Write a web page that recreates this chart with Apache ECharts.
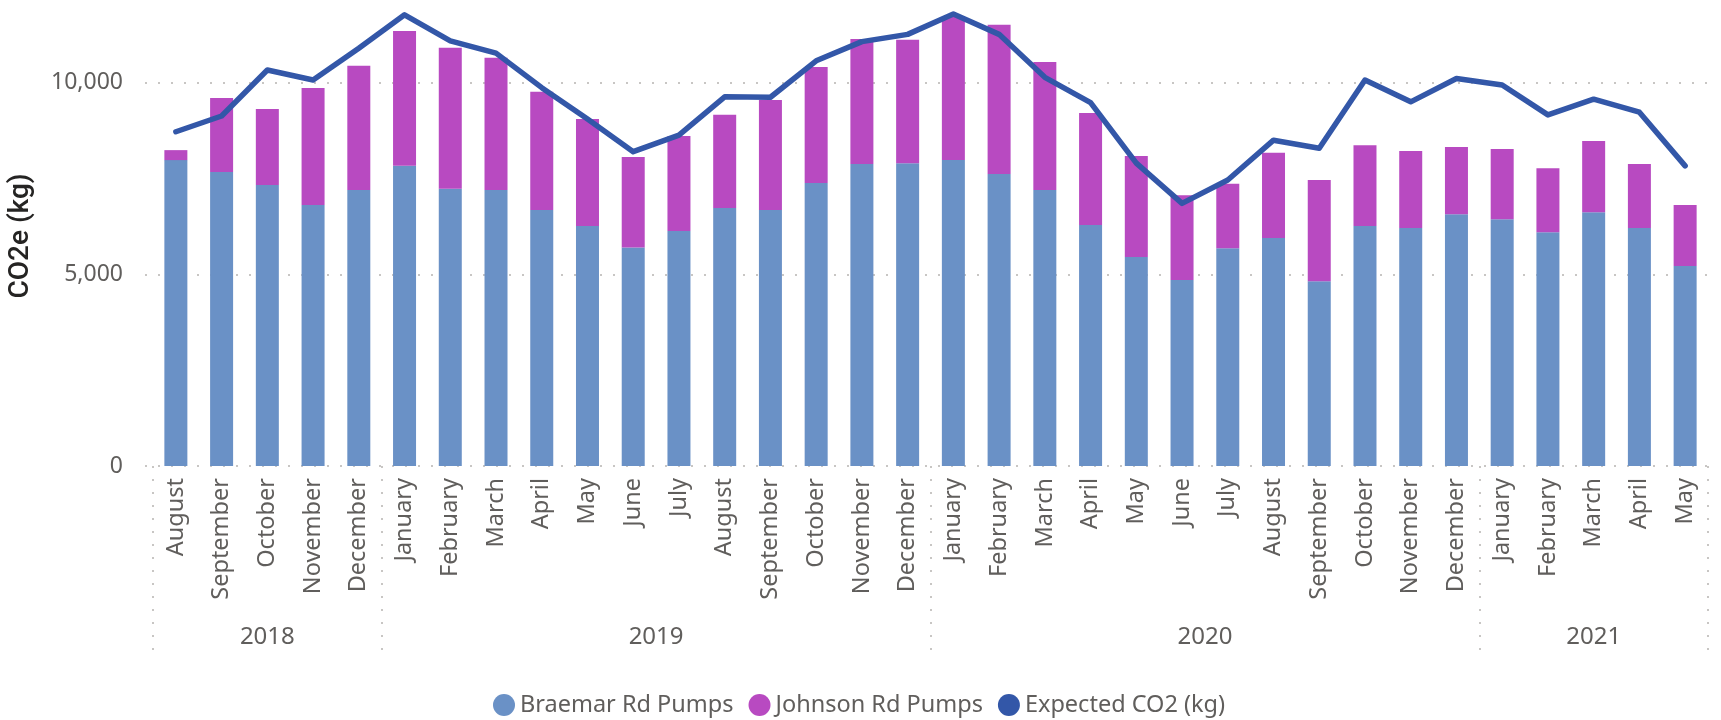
<!DOCTYPE html>
<html>
<head>
<meta charset="utf-8">
<script src="https://cdn.jsdelivr.net/npm/echarts@6/dist/echarts.min.js"></script>
<style>
  html, body { margin: 0; padding: 0; background: #ffffff; }
  #chart { width: 1721px; height: 720px; }
</style>
</head>
<body>
<div id="chart"></div>
<script>
// Monthly CO2e from the two pump stations, Aug 2018 – May 2021
const months = [
  'August', 'September', 'October', 'November', 'December',
  'January', 'February', 'March', 'April', 'May', 'June', 'July',
  'August', 'September', 'October', 'November', 'December',
  'January', 'February', 'March', 'April', 'May', 'June', 'July',
  'August', 'September', 'October', 'November', 'December',
  'January', 'February', 'March', 'April', 'May'
];
const years = ['2018', '2019', '2020', '2021'];
const monthsPerYear = [5, 12, 12, 5];

const braemar = [
  7980, 7670, 7330, 6810, 7200,
  7830, 7230, 7200, 6680, 6260, 5700, 6130, 6730, 6680, 7380, 7880, 7900,
  7980, 7620, 7200, 6290, 5450, 4850, 5680, 5950, 4820, 6260, 6210, 6570,
  6440, 6100, 6620, 6210, 5220
];
const johnson = [
  260, 1930, 1980, 3050, 3240,
  3520, 3680, 3450, 3080, 2790, 2360, 2480, 2430, 2870, 3030, 3260, 3220,
  3740, 3890, 3340, 2920, 2640, 2210, 1680, 2220, 2640, 2110, 2010, 1750,
  1830, 1670, 1860, 1670, 1590
];
const expected = [
  8720, 9130, 10330, 10070, 10900,
  11770, 11090, 10770, 9870, 9050, 8200, 8630, 9630, 9620, 10570, 11070, 11260,
  11790, 11260, 10140, 9480, 7900, 6850, 7460, 8500, 8290, 10070, 9500, 10110,
  9940, 9160, 9570, 9230, 7830
];

const Y_MAX = 12000;
const Y_STEP = 5000;

// Year band: half-month slots so each year name sits mid-span and
// the separators fall on the month boundaries.
const yearSlots = new Array(months.length * 2 + 1).fill('');
const yearLabelSlots = new Set();
const yearEdgeSlots = new Set([0]);
let startMonth = 0;
monthsPerYear.forEach((n, i) => {
  const mid = 2 * startMonth + n;
  yearSlots[mid] = years[i];
  yearLabelSlots.add(mid);
  startMonth += n;
  yearEdgeSlots.add(2 * startMonth);
});

const FONT = '"Noto Sans", "Segoe UI", sans-serif';
const TEXT = '#605E5C';
const GRIDLINE = '#C8C6C4';

const chart = echarts.init(document.getElementById('chart'), null, { renderer: 'canvas' });
chart.setOption({
  animation: false,
  backgroundColor: '#ffffff',
  grid: [
    { left: 153, right: 13, top: 6, bottom: 254, outerBoundsMode: 'none' },
    { left: 145, right: 10, top: 6, bottom: 254, outerBoundsMode: 'none' }
  ],
  legend: {
    left: 488,
    top: 688,
    icon: 'circle',
    itemWidth: 22,
    itemHeight: 22,
    itemGap: 15,
    textStyle: { fontFamily: FONT, fontSize: 23.5, color: TEXT },
    data: ['Braemar Rd Pumps', 'Johnson Rd Pumps', 'Expected CO2 (kg)']
  },
  xAxis: [
    {
      type: 'category',
      gridIndex: 0,
      position: 'bottom',
      data: months,
      axisLine: { show: false },
      axisTick: { show: false },
      axisLabel: {
        rotate: 90,
        interval: 0,
        margin: 12,
        fontFamily: FONT,
        fontSize: 23.5,
        color: TEXT
      }
    },
    {
      type: 'category',
      gridIndex: 0,
      position: 'bottom',
      boundaryGap: false,
      data: yearSlots,
      axisLine: { show: false },
      axisTick: {
        show: true,
        interval: (i) => yearEdgeSlots.has(i),
        length: 189,
        lineStyle: { type: [2, 11], width: 2, color: GRIDLINE }
      },
      axisLabel: {
        interval: (i) => yearLabelSlots.has(i),
        margin: 159,
        fontFamily: FONT,
        fontSize: 24,
        color: TEXT
      },
      splitLine: { show: false }
    },
    { type: 'value', gridIndex: 1, show: false, min: 0, max: 1 }
  ],
  yAxis: [
    { type: 'value', gridIndex: 0, min: 0, max: Y_MAX, interval: Y_STEP, show: false },
    {
      type: 'value',
      gridIndex: 1,
      min: 0,
      max: Y_MAX,
      interval: Y_STEP,
      name: 'CO2e (kg)',
      nameLocation: 'middle',
      nameGap: 110,
      nameTextStyle: {
        fontFamily: 'Roboto, "Noto Sans", sans-serif',
        fontSize: 28,
        fontWeight: 500,
        color: '#252423'
      },
      axisLine: { show: false },
      axisTick: { show: false },
      axisLabel: {
        margin: 22,
        showMaxLabel: false,
        fontFamily: FONT,
        fontSize: 23,
        color: TEXT
      },
      splitLine: {
        show: true,
        showMaxLine: false,
        lineStyle: { type: [2, 11], width: 2, color: GRIDLINE }
      }
    }
  ],
  series: [
    {
      name: 'Braemar Rd Pumps',
      type: 'bar',
      stack: 'pumps',
      barWidth: 23,
      data: braemar,
      itemStyle: { color: '#6A91C6' }
    },
    {
      name: 'Johnson Rd Pumps',
      type: 'bar',
      stack: 'pumps',
      barWidth: 23,
      data: johnson,
      itemStyle: { color: '#B84AC1' }
    },
    {
      name: 'Expected CO2 (kg)',
      type: 'line',
      data: expected,
      showSymbol: false,
      symbol: 'circle',
      z: 5,
      itemStyle: { color: '#3357A8' },
      lineStyle: { width: 5.5, color: '#3357A8', cap: 'round', join: 'round' }
    }
  ]
});
</script>
</body>
</html>
